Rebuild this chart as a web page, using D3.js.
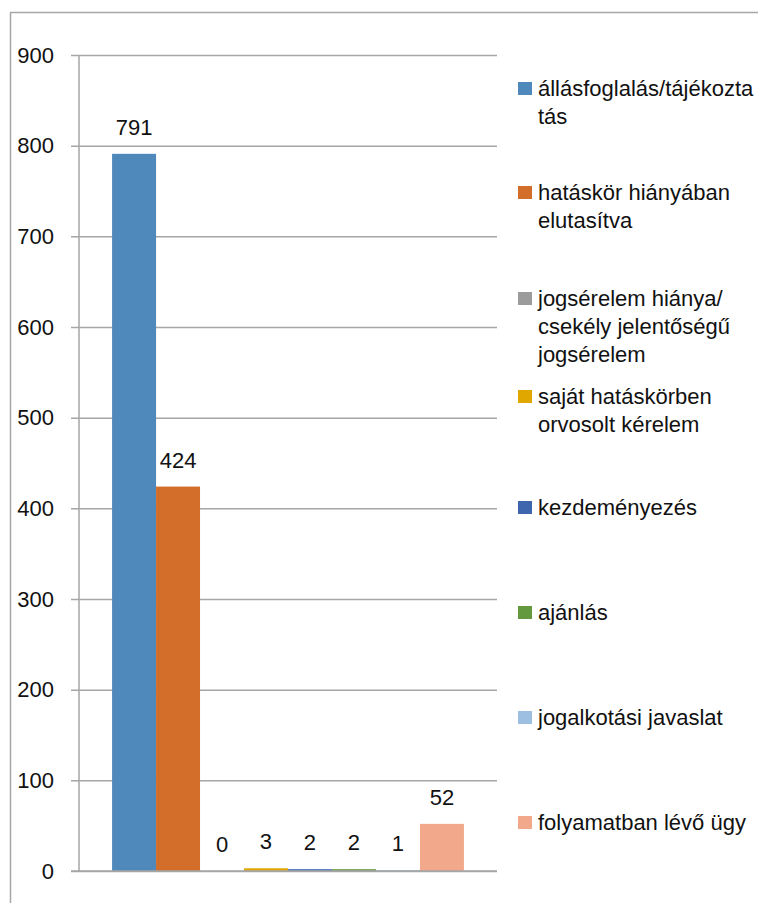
<!DOCTYPE html>
<html>
<head>
<meta charset="utf-8">
<script src="https://cdn.jsdelivr.net/npm/d3@7"></script>
<style>
  body { margin: 0; background: #fff; }
  text { font-family: "Liberation Sans", Arial, sans-serif; }
</style>
</head>
<body>
<div id="chart"></div>
<script>
// data
const categories = [
  "állásfoglalás/tájékoztatás",
  "hatáskör hiányában elutasítva",
  "jogsérelem hiánya/ csekély jelentőségű jogsérelem",
  "saját hatáskörben orvosolt kérelem",
  "kezdeményezés",
  "ajánlás",
  "jogalkotási javaslat",
  "folyamatban lévő ügy"
];
// legend text as it wraps in the picture
const legendLines = [
  ["állásfoglalás/tájékozta", "tás"],
  ["hatáskör hiányában", "elutasítva"],
  ["jogsérelem hiánya/", "csekély jelentőségű", "jogsérelem"],
  ["saját hatáskörben", "orvosolt kérelem"],
  ["kezdeményezés"],
  ["ajánlás"],
  ["jogalkotási javaslat"],
  ["folyamatban lévő ügy"]
];
const values = [791, 424, 0, 3, 2, 2, 1, 52];
const colors = ["#4f88bb", "#d26d2a", "#9b9b9b", "#e0a700", "#3e66ae", "#65993f", "#9dbfe2", "#f1a88b"];
const yTicks = [0, 100, 200, 300, 400, 500, 600, 700, 800, 900];

const width = 758, height = 903;
const plot = {left: 79, right: 497, top: 55, bottom: 871};
const fontSize = 22;

const svg = d3.select("#chart")
  .append("svg")
  .attr("width", width)
  .attr("height", height)

// outer chart border (runs off the right and bottom edge)
svg.append("rect")
  .attr("x", 10.5).attr("y", 12.5)
  .attr("width", 900).attr("height", 1000)
  .attr("fill", "none")
  .attr("stroke", "#a6a6a6")
  .attr("stroke-width", 1.5)

const y = d3.scaleLinear().domain([0, 900]).range([plot.bottom, plot.top]);

const x0 = d3.scaleBand()
  .domain([""])
  .range([plot.left, plot.right])
  .paddingInner(0)
  .paddingOuter(0.094);
const x1 = d3.scaleBand()
  .domain(categories)
  .range([0, x0.bandwidth()]);

// gridlines + tick marks + labels
const axis = svg.append("g")
  .attr("transform", `translate(${plot.left - 8},0)`)
  .call(d3.axisLeft(y).tickValues(yTicks).tickSize(-(plot.right - plot.left + 8)).tickPadding(17));
axis.select(".domain").remove();
axis.selectAll(".tick line").attr("stroke", "#a6a6a6").attr("stroke-width", 1.5);
axis.selectAll(".tick text")
  .attr("fill", "#111")
  .style("font-family", '"Liberation Sans", Arial, sans-serif')
  .style("font-size", fontSize + "px");

svg.append("line")
  .attr("x1", plot.left).attr("x2", plot.left)
  .attr("y1", plot.top).attr("y2", plot.bottom)
  .attr("stroke", "#a6a6a6")
  .attr("stroke-width", 1.5)

const barG = svg.append("g").attr("transform", `translate(${x0("")},0)`);

barG.selectAll(".bar")
  .data(categories)
  .join("rect")
  .classed("bar", true)
    .attr("x", d => x1(d))
    .attr("width", x1.bandwidth())
    .attr("y", (d, i) => y(values[i]))
    .attr("height", (d, i) => y(0) - y(values[i]))
    .attr("fill", (d, i) => colors[i])

// category axis line sits on top of the bars
svg.append("line")
  .attr("x1", plot.left - 8).attr("x2", plot.right)
  .attr("y1", y(0)).attr("y2", y(0))
  .attr("stroke", "#a6a6a6")
  .attr("stroke-width", 1.5)

barG.selectAll(".val")
  .data(categories)
  .join("text")
  .classed("val", true)
    .attr("x", d => x1(d) + x1.bandwidth() / 2)
    .attr("y", (d, i) => y(values[i]) - 19)
    .attr("text-anchor", "middle")
    .attr("fill", "#111")
    .style("font-size", fontSize + "px")
    .text((d, i) => values[i])

// legend
const legendY = [96, 200, 306, 404, 515, 620, 725, 830];
const legend = svg.append("g")
  .selectAll(".leg")
  .data(categories)
  .join("g")
  .classed("leg", true)
    .attr("transform", (d, i) => `translate(518,${legendY[i]})`)

legend.append("rect")
  .attr("x", 0).attr("y", -14)
  .attr("width", 14).attr("height", 13)
  .attr("fill", (d, i) => colors[i])

legend.append("text")
  .attr("x", 20)
  .attr("fill", "#111")
  .style("font-size", fontSize + "px")
  .selectAll("tspan")
  .data((d, i) => legendLines[i])
  .join("tspan")
    .attr("x", 20)
    .attr("dy", (d, j) => j === 0 ? 0 : 28)
    .text(d => d)
</script>
</body>
</html>
